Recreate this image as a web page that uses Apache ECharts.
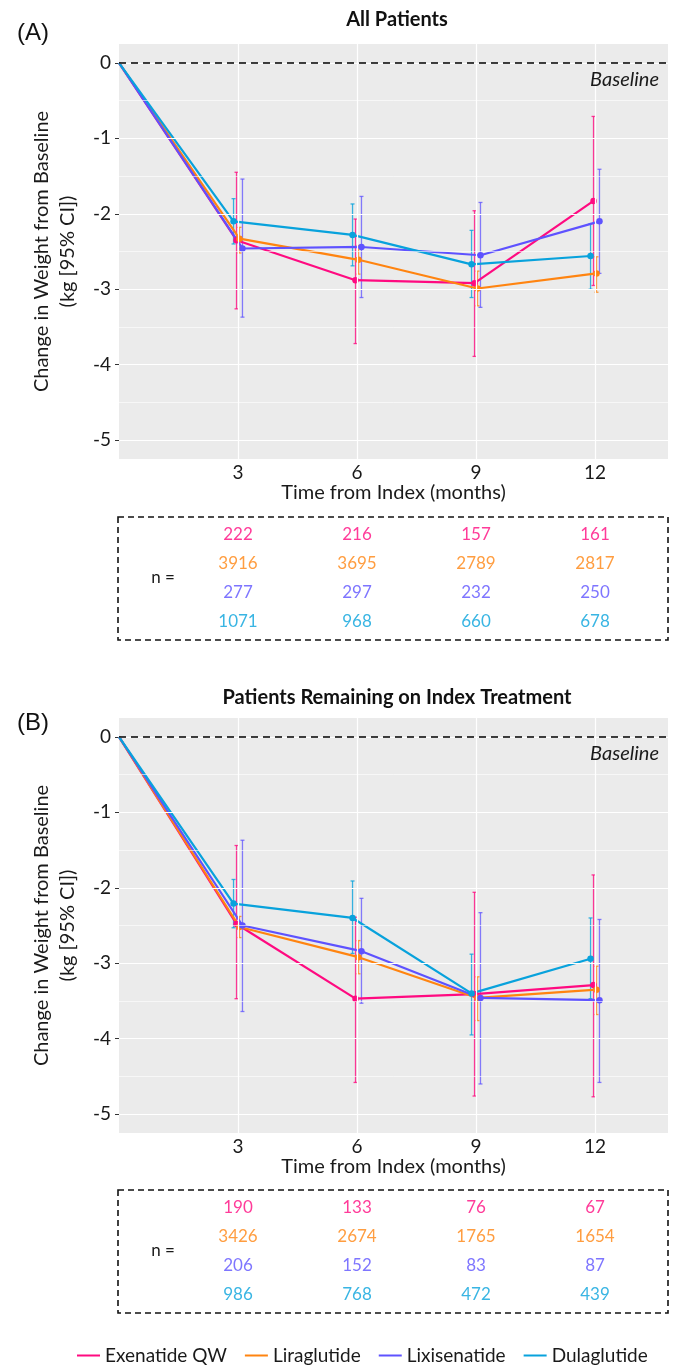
<!DOCTYPE html>
<html>
<head>
<meta charset="utf-8">
<script src="https://cdn.jsdelivr.net/npm/echarts@6/dist/echarts.min.js"></script>
<style>
html,body{margin:0;padding:0;background:#fff;}
#chart{width:675px;height:1367px;}
</style>
</head>
<body>
<div id="chart"></div>
<script>
// ---------------- data ----------------
const months = [3, 6, 9, 12];
const drugs = ['Exenatide QW', 'Liraglutide', 'Lixisenatide', 'Dulaglutide'];
const yTicks = [-5, -4, -3, -2, -1, 0];
const yMinorTicks = [-4.5, -3.5, -2.5, -1.5, -0.5];

// Panel A: All Patients (mean, lower CI, upper CI)
const aExenMean = [-2.35, -2.88, -2.92, -1.83];
const aExenLo   = [-3.26, -3.72, -3.89, -2.95];
const aExenHi   = [-1.45, -2.07, -1.96, -0.71];
const aLiraMean = [-2.33, -2.61, -2.99, -2.79];
const aLiraLo   = [-2.52, -2.80, -3.22, -3.04];
const aLiraHi   = [-2.18, -2.42, -2.76, -2.57];
const aLixiMean = [-2.46, -2.44, -2.55, -2.10];
const aLixiLo   = [-3.37, -3.11, -3.24, -2.79];
const aLixiHi   = [-1.54, -1.77, -1.85, -1.41];
const aDulaMean = [-2.10, -2.28, -2.67, -2.56];
const aDulaLo   = [-2.40, -2.69, -3.11, -3.00];
const aDulaHi   = [-1.80, -1.87, -2.22, -2.13];

// Panel B: Patients Remaining on Index Treatment
const bExenMean = [-2.48, -3.47, -3.41, -3.29];
const bExenLo   = [-3.47, -4.58, -4.76, -4.77];
const bExenHi   = [-1.44, -2.39, -2.06, -1.83];
const bLiraMean = [-2.52, -2.92, -3.46, -3.35];
const bLiraLo   = [-2.66, -3.14, -3.76, -3.68];
const bLiraHi   = [-2.38, -2.70, -3.18, -3.04];
const bLixiMean = [-2.50, -2.84, -3.46, -3.49];
const bLixiLo   = [-3.64, -3.53, -4.60, -4.58];
const bLixiHi   = [-1.37, -2.14, -2.33, -2.42];
const bDulaMean = [-2.21, -2.40, -3.40, -2.94];
const bDulaLo   = [-2.53, -2.87, -3.95, -3.47];
const bDulaHi   = [-1.89, -1.91, -2.88, -2.40];

// Number of patients
const aExenN = [222, 216, 157, 161];
const aLiraN = [3916, 3695, 2789, 2817];
const aLixiN = [277, 297, 232, 250];
const aDulaN = [1071, 968, 660, 678];
const bExenN = [190, 133, 76, 67];
const bLiraN = [3426, 2674, 1765, 1654];
const bLixiN = [206, 152, 83, 87];
const bDulaN = [986, 768, 472, 439];

// ---------------- styling ----------------
const colors = ['#FF0A80', '#FF8410', '#5E52FF', '#08A2DC'];
const errColors = ['rgba(255,10,128,0.8)', 'rgba(255,132,16,0.8)', 'rgba(94,82,255,0.75)', 'rgba(8,162,220,0.8)'];
const dodge = [-0.0375, 0.0375, 0.1125, -0.1125];
const FONT = 'Lato';
const TXT = '#1a1a1a';

const panels = [
  { mean: [aExenMean, aLiraMean, aLixiMean, aDulaMean], lo: [aExenLo, aLiraLo, aLixiLo, aDulaLo], hi: [aExenHi, aLiraHi, aLixiHi, aDulaHi], n: [aExenN, aLiraN, aLixiN, aDulaN] },
  { mean: [bExenMean, bLiraMean, bLixiMean, bDulaMean], lo: [bExenLo, bLiraLo, bLixiLo, bDulaLo], hi: [bExenHi, bLiraHi, bLixiHi, bDulaHi], n: [bExenN, bLiraN, bLixiN, bDulaN] }
];

const X_MAX = 13.84;
const plotTops = [44, 718];
const tableTops = [520.5, 1193.5];

const grids = [], xAxes = [], yAxes = [];
for (let p = 0; p < 2; p++) {
  grids.push({ left: 119, width: 549, top: plotTops[p], height: 415, show: true, backgroundColor: '#EBEBEB', borderWidth: 0, containLabel: false });
  xAxes.push({
    gridIndex: p, type: 'value', min: 0, max: X_MAX,
    name: 'Time from Index (months)', nameLocation: 'middle', nameGap: 23,
    nameTextStyle: { fontFamily: FONT, fontSize: 20, color: TXT },
    axisLine: { show: false },
    axisTick: { show: true, length: 4, lineStyle: { color: '#333', width: 1 }, customValues: months },
    axisLabel: { fontFamily: FONT, fontSize: 19, color: TXT, margin: 4, customValues: months },
    splitLine: { show: false }
  });
  yAxes.push({
    gridIndex: p, type: 'value', min: -5.25, max: 0.25,
    name: 'Change in Weight from Baseline\n(kg [95% CI])', nameLocation: 'middle', nameGap: 38,
    nameMoveOverlap: false,
    nameTextStyle: { fontFamily: FONT, fontSize: 20, color: TXT, lineHeight: 26 },
    axisLine: { show: false },
    axisTick: { show: true, length: 4, lineStyle: { color: '#333', width: 1 }, customValues: yTicks },
    axisLabel: { fontFamily: FONT, fontSize: 19, color: TXT, margin: 8, customValues: yTicks },
    splitLine: { show: false }
  });
}
for (let p = 0; p < 2; p++) {
  grids.push({ left: 119, width: 549, top: tableTops[p], height: 116, show: false });
  xAxes.push({ gridIndex: 2 + p, type: 'value', min: 0, max: X_MAX, show: false });
  yAxes.push({ gridIndex: 2 + p, type: 'value', min: -0.5, max: 3.5, inverse: true, show: false });
}

function renderErr(params, api) {
  const x = api.value(0), lo = api.value(1), hi = api.value(2);
  const a = api.coord([x, lo]), b = api.coord([x, hi]);
  const st = { stroke: errColors[api.value(3)], lineWidth: 1.3 };
  const cw = 2;
  return {
    type: 'group',
    children: [
      { type: 'line', shape: { x1: a[0], y1: a[1], x2: b[0], y2: b[1] }, style: st },
      { type: 'line', shape: { x1: a[0] - cw, y1: a[1], x2: a[0] + cw, y2: a[1] }, style: st },
      { type: 'line', shape: { x1: b[0] - cw, y1: b[1], x2: b[0] + cw, y2: b[1] }, style: st }
    ]
  };
}

const series = [];
for (let p = 0; p < 2; p++) {
  const P = panels[p];
  const gl = [];
  months.forEach(m => gl.push({ xAxis: m, lineStyle: { color: '#fff', width: 1.2, type: 'solid' } }));
  yTicks.forEach(v => gl.push({ yAxis: v, lineStyle: { color: '#fff', width: 1.2, type: 'solid' } }));
  yMinorTicks.forEach(v => gl.push({ yAxis: v, lineStyle: { color: '#fff', width: 0.6, type: 'solid' } }));
  series.push({
    type: 'line', name: 'grid' + p, xAxisIndex: p, yAxisIndex: p, data: [], z: 1, silent: true,
    markLine: { silent: true, symbol: 'none', label: { show: false }, animation: false, emphasis: { disabled: true }, data: gl }
  });
  series.push({
    type: 'line', name: 'base' + p, xAxisIndex: p, yAxisIndex: p, data: [], z: 2, silent: true,
    markLine: { silent: true, symbol: 'none', label: { show: false }, animation: false, emphasis: { disabled: true },
      data: [{ yAxis: 0, lineStyle: { color: '#000', width: 1.7, type: [7, 5] } }] }
  });
  for (let d = 0; d < 4; d++) {
    const lineData = [{ value: [0, 0], symbol: 'none' }];
    const errData = [];
    months.forEach((m, i) => {
      lineData.push([m + dodge[d], P.mean[d][i]]);
      errData.push([m + dodge[d], P.lo[d][i], P.hi[d][i], d]);
    });
    series.push({
      type: 'custom', name: drugs[d], xAxisIndex: p, yAxisIndex: p, z: 3,
      itemStyle: { color: colors[d] },
      encode: { x: 0, y: [1, 2] },
      renderItem: renderErr, data: errData, silent: true
    });
    series.push({
      type: 'line', name: drugs[d], xAxisIndex: p, yAxisIndex: p, z: 4,
      data: lineData, symbol: 'circle', symbolSize: 6.5, showSymbol: true,
      lineStyle: { color: colors[d], width: 2.2 }, itemStyle: { color: colors[d] },
      emphasis: { disabled: true }
    });
    const nData = months.map((m, i) => [m, d, P.n[d][i]]);
    series.push({
      type: 'scatter', name: drugs[d], xAxisIndex: 2 + p, yAxisIndex: 2 + p,
      data: nData, symbolSize: 0, silent: true,
      label: { show: true, position: 'inside', formatter: o => String(o.value[2]), color: colors[d], fontFamily: FONT, fontSize: 17 },
      itemStyle: { color: colors[d] }
    });
  }
}

const chart = echarts.init(document.getElementById('chart'), null, { renderer: 'canvas' });
chart.setOption({
  animation: false,
  backgroundColor: '#fff',
  title: [
    { text: 'All Patients', left: 392, top: 5, textAlign: 'center', textStyle: { fontFamily: FONT, fontSize: 20, fontWeight: 'bold', color: '#111' } },
    { text: 'Patients Remaining on Index Treatment', left: 392, top: 683, textAlign: 'center', textStyle: { fontFamily: FONT, fontSize: 20, fontWeight: 'bold', color: '#111' } },
    { text: '(A)', left: 12, top: 16, textStyle: { fontFamily: 'Liberation Sans', fontSize: 24, fontWeight: 'normal', color: '#111' } },
    { text: '(B)', left: 12, top: 706, textStyle: { fontFamily: 'Liberation Sans', fontSize: 24, fontWeight: 'normal', color: '#111' } }
  ],
  legend: {
    data: drugs, left: 77, top: 1346, padding: 0, itemWidth: 23, itemHeight: 2, itemGap: 18, icon: 'rect',
    textStyle: { fontFamily: FONT, fontSize: 19, color: TXT }
  },
  grid: grids, xAxis: xAxes, yAxis: yAxes, series: series,
  graphic: [
    { type: 'rect', shape: { x: 118, y: 517, width: 550, height: 123 }, style: { fill: 'none', stroke: '#111', lineWidth: 1.6, lineDash: [6, 4] } },
    { type: 'rect', shape: { x: 118, y: 1190, width: 550, height: 123 }, style: { fill: 'none', stroke: '#111', lineWidth: 1.6, lineDash: [6, 4] } },
    { type: 'text', x: 163, y: 578, style: { text: 'n =', fontFamily: FONT, fontSize: 17, fill: TXT, textAlign: 'center', textVerticalAlign: 'middle' } },
    { type: 'text', x: 163, y: 1251, style: { text: 'n =', fontFamily: FONT, fontSize: 17, fill: TXT, textAlign: 'center', textVerticalAlign: 'middle' } },
    { type: 'text', x: 659, y: 80, z: 10, style: { text: 'Baseline', fontFamily: FONT, fontSize: 20, fontStyle: 'italic', fill: TXT, textAlign: 'right', textVerticalAlign: 'middle' } },
    { type: 'text', x: 659, y: 754, z: 10, style: { text: 'Baseline', fontFamily: FONT, fontSize: 20, fontStyle: 'italic', fill: TXT, textAlign: 'right', textVerticalAlign: 'middle' } }
  ]
});
</script>
</body>
</html>
